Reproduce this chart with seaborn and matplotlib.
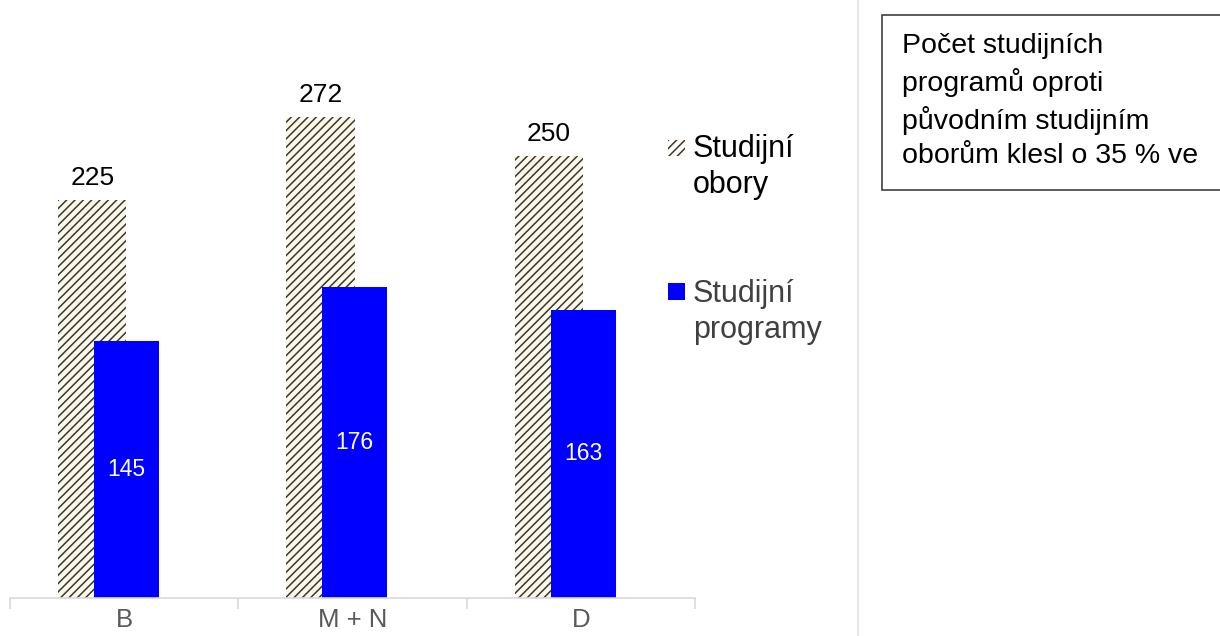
import matplotlib
matplotlib.use("Agg")
import matplotlib.pyplot as plt
from matplotlib.patches import Rectangle
import seaborn as sns
import pandas as pd

categories = ["B", "M + N", "D"]
obory = [225, 272, 250]
programy = [145, 176, 163]
legend_labels = ["Studijní\nobory", "Studijní\nprogramy"]
box_text = "Počet studijních\nprogramů oproti\npůvodním studijním\noborům klesl o 35 % ve"

sns.set_theme(style="white")
plt.rcParams["font.family"] = ["Liberation Sans", "DejaVu Sans"]
plt.rcParams["hatch.linewidth"] = 1.1

W, H = 1220, 636
fig = plt.figure(figsize=(W / 100, H / 100), dpi=100)
fig.patch.set_facecolor("white")

scale = 1.769  # px per unit
ymax = 330
ax = fig.add_axes([10 / W, 38 / H, 685 / W, ymax * scale / H])

df1 = pd.DataFrame({"cat": categories, "val": obory})
df2 = pd.DataFrame({"cat": categories, "val": programy})

hatch_col = "#3f3720"
sns.barplot(data=df1, x="cat", y="val", ax=ax, width=0.30, color="white",
            saturation=1, edgecolor=hatch_col, linewidth=0)
n1 = len(ax.patches)
for p in ax.patches[:n1]:
    p.set_x(p.get_x() - 0.14)
    p.set_hatch("////")
    p.set_facecolor("#fbf8f0")
    p.set_edgecolor(hatch_col)
    p.set_linewidth(0)

sns.barplot(data=df2, x="cat", y="val", ax=ax, width=0.285, color="#0000ff",
            saturation=1, linewidth=0)
bars2 = ax.patches[n1:]
for p in bars2:
    p.set_x(p.get_x() + 0.01)

for p, v in zip(ax.patches[:n1], obory):
    ax.annotate(str(v), (p.get_x() + p.get_width() / 2, v), xytext=(0, 10),
                textcoords="offset pixels", ha="center", va="bottom",
                fontsize=19, color="black")
for p, v in zip(bars2, programy):
    ax.text(p.get_x() + p.get_width() / 2, v / 2, str(v), ha="center",
            va="center", fontsize=16.5, color="white")

ax.set_xlim(-0.5, 2.5)
ax.set_ylim(0, ymax)
ax.set_xlabel("")
ax.set_ylabel("")
ax.set_yticks([])
for s in ["top", "left", "right"]:
    ax.spines[s].set_visible(False)
ax.spines["bottom"].set_color("#d9d9d9")
ax.spines["bottom"].set_linewidth(1.2)
ax.set_xticks([0, 1, 2])
ax.set_xticklabels(categories, fontsize=18.5, color="#595959")
ax.set_xticks([-0.5, 0.5, 1.5, 2.5], minor=True)
ax.tick_params(axis="x", which="major", length=0, pad=7)
ax.tick_params(axis="x", which="minor", length=8, width=1.2, color="#d9d9d9",
               direction="out", bottom=True)

# separator line
fig.add_artist(plt.Line2D([858 / W, 858 / W], [0, 1], color="#e3e3e3", lw=1.2))

# legend (manual)
def fy(y):
    return 1 - y / H

fig.add_artist(Rectangle((668 / W, fy(156)), 17 / W, 16 / H, facecolor="white",
                         edgecolor=hatch_col, hatch="////", lw=0,
                         transform=fig.transFigure))
fig.add_artist(Rectangle((668 / W, fy(300)), 17 / W, 17 / H, facecolor="#0000ff",
                         edgecolor="none", transform=fig.transFigure))
fig.text(693 / W, fy(167), legend_labels[0], ha="left", va="center",
         fontsize=22, color="black", linespacing=1.3)
fig.text(693 / W, fy(312), legend_labels[1], ha="left", va="center",
         fontsize=22, color="#404040", linespacing=1.3)

# text box
fig.add_artist(Rectangle((882 / W, fy(190)), 400 / W, 175 / H, facecolor="white",
                         edgecolor="#404040", lw=1.2, transform=fig.transFigure))
fig.text(902 / W, fy(101), box_text, ha="left", va="center", fontsize=20.5,
         color="black", linespacing=1.4)

fig.savefig("out.png", dpi=100, facecolor="white")
